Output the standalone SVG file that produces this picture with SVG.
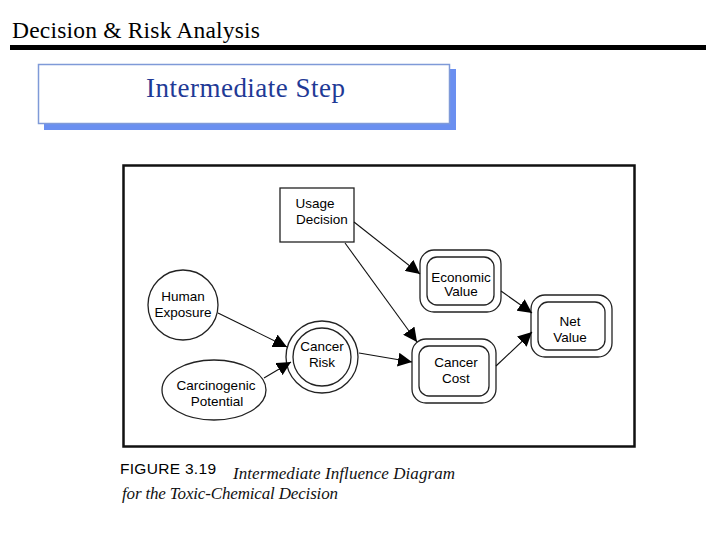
<svg xmlns="http://www.w3.org/2000/svg" width="720" height="540" viewBox="0 0 720 540">
<defs>
<marker id="ah" viewBox="0 0 10 10" refX="10" refY="5" markerWidth="14" markerHeight="14" markerUnits="userSpaceOnUse" orient="auto">
<path d="M0,0 L10,5 L0,10 z" fill="#000"/>
</marker>
</defs>
<style>
.lbl{font-family:"Liberation Sans",Arial,sans-serif;font-size:13.5px;fill:#000;text-anchor:middle}
.shp{fill:#fff;stroke:#222;stroke-width:1.3}
.con{stroke:#111;stroke-width:1.1;fill:none;marker-end:url(#ah)}
</style>
<rect width="720" height="540" fill="#fff"/>
<text x="12" y="38" font-family="Liberation Serif,serif" font-size="23.5" fill="#000" textLength="248">Decision &amp; Risk Analysis</text>
<rect x="10" y="45" width="696" height="5" fill="#000"/>
<g id="title-box">
<rect x="44" y="69" width="412" height="61" fill="#6a8ff0"/>
<rect x="38.5" y="64.5" width="411" height="59" fill="#fff" stroke="#7f9ad8" stroke-width="1.5"/>
<text x="146" y="97" font-family="Liberation Serif,serif" font-size="27" fill="#1f3a96" textLength="199">Intermediate Step</text>
</g>
<rect x="123.5" y="165.5" width="511" height="281" fill="none" stroke="#111" stroke-width="2.5"/>
<g id="usage-decision">
<rect class="shp" x="280" y="188" width="74" height="54"/>
<text class="lbl" x="315" y="208">Usage</text>
<text class="lbl" x="322" y="224">Decision</text>
</g>
<g id="human-exposure">
<circle class="shp" cx="183" cy="305" r="35"/>
<text class="lbl" x="183" y="301">Human</text>
<text class="lbl" x="183" y="317">Exposure</text>
</g>
<g id="carcinogenic-potential">
<ellipse class="shp" cx="214" cy="390" rx="52" ry="30"/>
<text class="lbl" x="216" y="390">Carcinogenic</text>
<text class="lbl" x="217" y="406">Potential</text>
</g>
<g id="cancer-risk">
<circle class="shp" cx="322" cy="357" r="36"/>
<circle class="shp" cx="322" cy="357" r="29"/>
<text class="lbl" x="322" y="351">Cancer</text>
<text class="lbl" x="322" y="367">Risk</text>
</g>
<g id="economic-value">
<rect class="shp" x="420" y="250" width="81" height="62" rx="14"/>
<rect class="shp" x="427" y="257" width="67" height="48" rx="10"/>
<text class="lbl" x="461" y="282">Economic</text>
<text class="lbl" x="461" y="296">Value</text>
</g>
<g id="cancer-cost">
<rect class="shp" x="412" y="339" width="84" height="64" rx="14"/>
<rect class="shp" x="419" y="346" width="70" height="50" rx="10"/>
<text class="lbl" x="456" y="367">Cancer</text>
<text class="lbl" x="456" y="383">Cost</text>
</g>
<g id="net-value">
<rect class="shp" x="531" y="295" width="81" height="62" rx="14"/>
<rect class="shp" x="538" y="302" width="67" height="48" rx="10"/>
<text class="lbl" x="570" y="326">Net</text>
<text class="lbl" x="570" y="342">Value</text>
</g>
<g id="connectors">
<line class="con" x1="354" y1="222" x2="420" y2="274"/>
<line class="con" x1="345" y1="243" x2="417" y2="342"/>
<line class="con" x1="218" y1="313" x2="287" y2="347"/>
<line class="con" x1="264" y1="378" x2="291" y2="362"/>
<line class="con" x1="359" y1="353" x2="412" y2="362"/>
<line class="con" x1="501" y1="291" x2="532" y2="313"/>
<line class="con" x1="496" y1="366" x2="532" y2="332"/>
</g>
<text x="120" y="474" font-family="Liberation Sans,Arial,sans-serif" font-size="15.5" fill="#000" textLength="96">FIGURE 3.19</text>
<text x="233" y="479" font-family="Liberation Serif,serif" font-style="italic" font-size="17" fill="#111" textLength="222">Intermediate Influence Diagram</text>
<text x="122" y="499" font-family="Liberation Serif,serif" font-style="italic" font-size="17" fill="#111" textLength="216">for the Toxic-Chemical Decision</text>
</svg>
